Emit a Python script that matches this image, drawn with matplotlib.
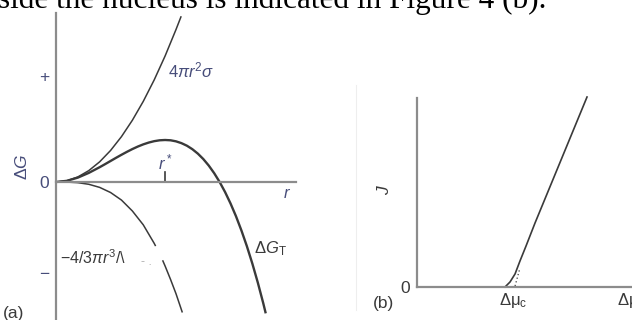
import numpy as np
import matplotlib
matplotlib.use("Agg")
import matplotlib.pyplot as plt

plt.rcParams['font.family'] = ['Liberation Sans', 'DejaVu Sans']
plt.rcParams['mathtext.fontset'] = 'custom'
plt.rcParams['mathtext.rm'] = 'Liberation Sans'
plt.rcParams['mathtext.it'] = 'Liberation Sans:italic'

# (a) free energy vs nucleus radius (r* = 1, dG* = 1)
r_surf = [0, 0.1, 0.2, 0.3, 0.4, 0.5, 0.6, 0.7, 0.8, 0.9, 1.0, 1.1, 1.145]
g_surf = [0, 0.03, 0.12, 0.27, 0.48, 0.75, 1.08, 1.47, 1.92, 2.43, 3.00, 3.63, 3.93]

r_vol1 = [0, 0.1, 0.2, 0.3, 0.4, 0.5, 0.6, 0.7, 0.8, 0.9, 0.91]
g_vol1 = [0, -0.002, -0.016, -0.054, -0.128, -0.25, -0.43, -0.69, -1.02, -1.46, -1.51]
r_vol2 = [0.98, 1.0, 1.05, 1.1, 1.156]
g_vol2 = [-1.88, -2.0, -2.32, -2.66, -3.09]

r_tot = [0, 0.1, 0.2, 0.3, 0.4, 0.45, 0.5, 0.55, 0.6, 0.65, 0.7, 0.75, 0.8,
         0.85, 0.9, 0.95, 1.0, 1.05, 1.1, 1.15, 1.2, 1.25, 1.3, 1.35, 1.4,
         1.45, 1.5, 1.55, 1.6, 1.65, 1.7, 1.75, 1.8, 1.85, 1.9, 1.92]
g_tot = [0, 0.028, 0.104, 0.216, 0.352, 0.425, 0.5, 0.575, 0.648, 0.718, 0.784,
         0.844, 0.896, 0.939, 0.972, 0.993, 1.0, 0.993, 0.968, 0.925, 0.864,
         0.781, 0.676, 0.547, 0.392, 0.210, 0, -0.240, -0.512, -0.816, -1.156,
         -1.531, -1.944, -2.396, -2.888, -3.10]

# (b) nucleation rate vs supersaturation (dmu_c = 1)
mu_j = [1.0, 1.057, 1.114, 1.17, 1.239, 1.341, 1.932]
j_j = [0, 0.057, 0.148, 0.295, 0.466, 0.727, 2.159]
mu_dot = [1.114, 1.17]
j_dot = [0.011, 0.216]

ink = '#3a3a3a'
lab = '#474d7a'
axc = '#8c8c8c'

fig = plt.figure(figsize=(6.32, 3.2), dpi=100)

fig.text(-2 / 632, 1 - 8 / 320, 'side the nucleus is indicated in Figure 4 (b).',
         family='Liberation Serif', fontsize=22.5, va='baseline', ha='left')

# ---- panel (a)
ax1 = fig.add_axes([56 / 632, 0, 240 / 632, 1])
ax1.set_xlim(0, 2.2)
ax1.set_ylim((182 - 320) / 42, 182 / 42)
for s in ['top', 'right']:
    ax1.spines[s].set_visible(False)
ax1.spines['bottom'].set_position(('data', 0))
ax1.spines['left'].set_bounds(-3.29, 4.02)
for s in ['left', 'bottom']:
    ax1.spines[s].set_color(axc)
    ax1.spines[s].set_linewidth(1.6)
ax1.set_xticks([])
ax1.set_yticks([-2.17, 0, 2.52])
ax1.set_yticklabels(['\u2212', '0', '+'])
ax1.tick_params(axis='y', length=0, pad=5, labelsize=12.5, labelcolor=lab)
ax1.patch.set_visible(False)

ax1.plot(r_surf, g_surf, color=ink, lw=1.1)
ax1.plot(r_vol1, g_vol1, color=ink, lw=1.1)
ax1.plot(r_vol2, g_vol2, color=ink, lw=1.1)
ax1.plot(r_tot, g_tot, color=ink, lw=1.7)
ax1.plot([1.0, 1.0], [0, 0.238], color=ink, lw=1.2)

ax1.text(-0.312, 0.357, r'$\Delta G$', rotation=90, ha='center', va='center',
         fontsize=12.5, color=lab)
ax1.text(1.028, 2.667, r'$4\pi r^2\sigma$', ha='left', va='center',
         fontsize=12, color=lab)
ax1.text(1.0, 0.47, r'$r^*$', ha='center', va='center', fontsize=12, color=lab)
ax1.text(2.12, -0.262, r'$r$', ha='center', va='center', fontsize=12, color=lab)
ax1.text(1.963, -1.595, r'$\Delta G_\mathrm{T}$', ha='center', va='center',
         fontsize=12, color=ink)
ax1.text(0.037, -1.81, r'$-4/3\pi r^3$/\ ', ha='left', va='center',
         fontsize=11.5, color=ink)
ax1.text(0.78, -1.9, '- .', ha='left', va='center', fontsize=9, color='#b0b0b0')
ax1.text(-0.385, -3.12, '(a)', ha='center', va='center', fontsize=12.5,
         color=ink, clip_on=False)

# ---- panel (b)
ax2 = fig.add_axes([417 / 632, 0, 215 / 632, 1])
ax2.set_xlim(0, 215 / 88)
ax2.set_ylim((287 - 320) / 88, 287 / 88)
for s in ['top', 'right']:
    ax2.spines[s].set_visible(False)
ax2.spines['bottom'].set_position(('data', 0))
ax2.spines['left'].set_bounds(0, 2.148)
for s in ['left', 'bottom']:
    ax2.spines[s].set_color(axc)
    ax2.spines[s].set_linewidth(1.6)
ax2.set_xticks([])
ax2.set_yticks([0])
ax2.set_yticklabels(['0'])
ax2.tick_params(axis='y', length=0, pad=5, labelsize=12.5, labelcolor=ink)
ax2.patch.set_visible(False)

ax2.plot(mu_j, j_j, color=ink, lw=1.2)
ax2.plot(mu_dot, j_dot, color=ink, lw=0.9, ls=(0, (1, 2)))
ax2.plot([-0.693, -0.693], [-0.26, 2.3], color='#eeeeee', lw=0.8, clip_on=False)

ax2.text(-0.375, 1.102, r'$J$', rotation=90, ha='center', va='center',
         fontsize=12.5, color=ink)
ax2.text(-0.386, -0.193, '(b)', ha='center', va='center', fontsize=12.5,
         color=ink, clip_on=False)
ax2.text(1.09, -0.159, r'$\Delta\mathrm{\mu}_\mathrm{c}$', ha='center', va='center',
         fontsize=12, color=ink)
ax2.text(2.27, -0.159, r'$\Delta\mathrm{\mu}$', ha='left', va='center',
         fontsize=12, color=ink)

fig.savefig('out.png', dpi=100)
